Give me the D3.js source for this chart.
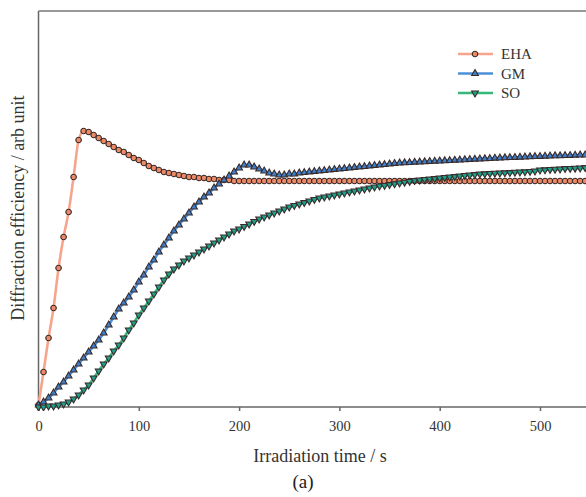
<!DOCTYPE html>
<html>
<head>
<meta charset="utf-8">
<script src="https://cdn.jsdelivr.net/npm/d3@7"></script>
<style>
  body { margin: 0; background: #fff; }
  svg { display: block; font-family: "Liberation Serif", "DejaVu Serif", serif; }
</style>
</head>
<body>
<svg></svg>
<script>
// Data ======================================================================

// sampling times (s), one marker every 5 s
const times = d3.range(0, 555, 5);

const xTicks = [0, 100, 200, 300, 400, 500];

// diffraction efficiency (arb unit)
const eha = [0.5, 8.75, 17.25, 24.75, 34.75, 42.5, 48.75, 57.5, 66.75, 69,
  68.75, 68, 67.25, 66.5, 65.75, 65, 64.25, 63.75, 63, 62.25,
  61.75, 61, 60.25, 59.75, 59.25, 58.75, 58.5, 58.25, 58, 57.75,
  57.5, 57.5, 57.25, 57.25, 57, 57, 56.75, 56.75, 56.75, 56.5,
  56.5, 56.5, 56.5, 56.5, 56.5, 56.5, 56.5, 56.5, 56.5, 56.5,
  56.5, 56.5, 56.5, 56.5, 56.5, 56.5, 56.5, 56.5, 56.5, 56.5,
  56.5, 56.5, 56.5, 56.5, 56.5, 56.5, 56.5, 56.5, 56.5, 56.5,
  56.5, 56.5, 56.5, 56.5, 56.5, 56.5, 56.5, 56.5, 56.5, 56.5,
  56.5, 56.5, 56.5, 56.5, 56.5, 56.5, 56.5, 56.5, 56.5, 56.5,
  56.5, 56.5, 56.5, 56.5, 56.5, 56.5, 56.5, 56.5, 56.5, 56.5,
  56.5, 56.5, 56.5, 56.5, 56.5, 56.5, 56.5, 56.5, 56.5, 56.5, 56.5];

const gm = [0.5, 1.25, 2.25, 3.5, 5, 6.25, 7.75, 9.25, 10.75, 12.25,
  13.75, 15.25, 16.75, 18.5, 20.5, 22.5, 24.5, 26, 27.5, 29.25,
  31.25, 33, 35, 36.75, 38.75, 40.5, 42.25, 44, 45.5, 47,
  48.5, 50, 51.25, 52.5, 53.5, 54.75, 55.75, 56.75, 57.75, 58.75,
  59.75, 60.5, 60.5, 60, 59.5, 59, 58.5, 58.25, 58, 58,
  58.25, 58.25, 58.5, 58.6, 58.75, 58.9, 59, 59.1, 59.25, 59.4,
  59.5, 59.6, 59.75, 59.9, 60, 60.1, 60.25, 60.4, 60.5, 60.6,
  60.75, 60.9, 61, 61.05, 61.1, 61.2, 61.25, 61.3, 61.4, 61.45,
  61.5, 61.55, 61.6, 61.7, 61.75, 61.8, 61.9, 61.95, 62, 62.05,
  62.1, 62.2, 62.25, 62.3, 62.35, 62.4, 62.45, 62.5, 62.55, 62.6,
  62.65, 62.7, 62.75, 62.8, 62.8, 62.85, 62.9, 62.95, 63, 63, 63.05];

const so = [0, 0, 0.25, 0.25, 0.5, 0.75, 1.25, 2, 3, 4.25,
  5.5, 7.25, 9, 10.75, 12.25, 14, 15.5, 17.25, 19.25, 21,
  23, 24.75, 26.5, 28.25, 30, 31.75, 33.25, 34.5, 35.5, 36.5,
  37.25, 38, 38.75, 39.5, 40.25, 41, 41.75, 42.5, 43.25, 44,
  44.5, 45.15, 45.75, 46.4, 47, 47.5, 48, 48.5, 49, 49.5,
  50, 50.4, 50.75, 51.1, 51.5, 51.9, 52.25, 52.5, 52.75, 53,
  53.25, 53.5, 53.75, 54, 54.25, 54.5, 54.75, 55, 55.25, 55.4,
  55.6, 55.8, 56, 56.2, 56.4, 56.6, 56.75, 56.9, 57, 57.1,
  57.25, 57.4, 57.5, 57.6, 57.75, 57.9, 58, 58.1, 58.25, 58.3,
  58.4, 58.45, 58.5, 58.55, 58.6, 58.7, 58.75, 58.8, 58.9, 59,
  59.25, 59.3, 59.4, 59.45, 59.5, 59.6, 59.65, 59.7, 59.75, 59.85, 60];

// Setup =====================================================================

const width = 586, height = 497;
const mLeft = 38.5, mTop = 11, mBottom = 407;

const svg = d3.select("svg")
  .attr("width", width)
  .attr("height", height);

const x = d3.scaleLinear().domain([0, 600]).range([mLeft, mLeft + 600 * 1.003]);
const y = d3.scaleLinear().domain([0, 99]).range([mBottom, mTop]);

const series = [
  { name: "EHA", values: eha, line: "#f6a58c", fill: "#ec8a68", shape: d3.symbolCircle, size: 24, rot: 0 },
  { name: "GM", values: gm, line: "#4d8fd6", fill: "#3f7fca", shape: d3.symbolTriangle, size: 20, rot: 0 },
  { name: "SO", values: so, line: "#37b879", fill: "#1f9f8c", shape: d3.symbolTriangle, size: 20, rot: 180 }
];

svg.append("clipPath").attr("id", "plot")
  .append("rect")
  .attr("x", mLeft - 4).attr("y", mTop)
  .attr("width", width).attr("height", mBottom - mTop + 4);

// Frame & axes ==============================================================

const xAxis = svg.append("g")
  .attr("transform", `translate(0,${mBottom})`)
  .call(d3.axisBottom(x).tickValues(xTicks).tickSize(4).tickPadding(10).tickSizeOuter(0))
  .attr("font-family", "Liberation Serif, serif")
  .attr("font-size", 14.5);
xAxis.select(".domain").attr("d", `M${mLeft},0H${width}`);
xAxis.selectAll("line, .domain").attr("stroke", "#666").attr("stroke-width", 1.5);
xAxis.selectAll("text").attr("fill", "#333");

svg.append("line")
  .attr("x1", mLeft).attr("x2", mLeft).attr("y1", mTop).attr("y2", mBottom)
  .attr("stroke", "#666").attr("stroke-width", 1.5);
svg.append("line")
  .attr("x1", mLeft).attr("x2", width).attr("y1", mTop).attr("y2", mTop)
  .attr("stroke", "#777").attr("stroke-width", 1.5);

// Series ====================================================================

const plot = svg.append("g").attr("clip-path", "url(#plot)");

const line = d3.line()
  .x((d, i) => x(times[i]))
  .y(d => y(d))
  .curve(d3.curveMonotoneX);

series.forEach(s => {
  plot.append("path")
    .datum(s.values)
    .attr("fill", "none")
    .attr("stroke", s.line)
    .attr("stroke-width", 2.6)
    .attr("d", line);
});

series.forEach(s => {
  plot.selectAll(null)
    .data(s.values)
    .enter()
    .append("path")
    .attr("d", d3.symbol().type(s.shape).size(s.size))
    .attr("transform", (d, i) => `translate(${x(times[i])},${y(d)}) rotate(${s.rot})`)
    .attr("fill", s.fill)
    .attr("stroke", "#3a2a28")
    .attr("stroke-width", 1.1);
});

// Legend ====================================================================

const legend = svg.append("g").selectAll("g")
  .data(series)
  .enter()
  .append("g")
  .attr("transform", (d, i) => `translate(458,${54 + i * 19.5})`);

legend.append("line")
  .attr("x1", 0).attr("x2", 35)
  .attr("stroke", d => d.line).attr("stroke-width", 2.6);
legend.append("path")
  .attr("d", d => d3.symbol().type(d.shape).size(d.size)())
  .attr("transform", d => `translate(17,0) rotate(${d.rot})`)
  .attr("fill", d => d.fill)
  .attr("stroke", "#3a2a28").attr("stroke-width", 1.1);
legend.append("text")
  .attr("x", 43).attr("dy", "0.35em")
  .attr("font-size", 15).attr("fill", "#333")
  .text(d => d.name);

// Labels ====================================================================

svg.append("text")
  .attr("x", 320).attr("y", 462)
  .attr("text-anchor", "middle")
  .attr("font-size", 18).attr("fill", "#333")
  .text("Irradiation time / s");

svg.append("text")
  .attr("transform", "translate(24,208) rotate(-90)")
  .attr("text-anchor", "middle")
  .attr("font-size", 18).attr("fill", "#333")
  .text("Diffraction efficiency / arb unit");

svg.append("text")
  .attr("x", 303).attr("y", 488)
  .attr("text-anchor", "middle")
  .attr("font-size", 19).attr("fill", "#222")
  .text("(a)");
</script>
</body>
</html>
